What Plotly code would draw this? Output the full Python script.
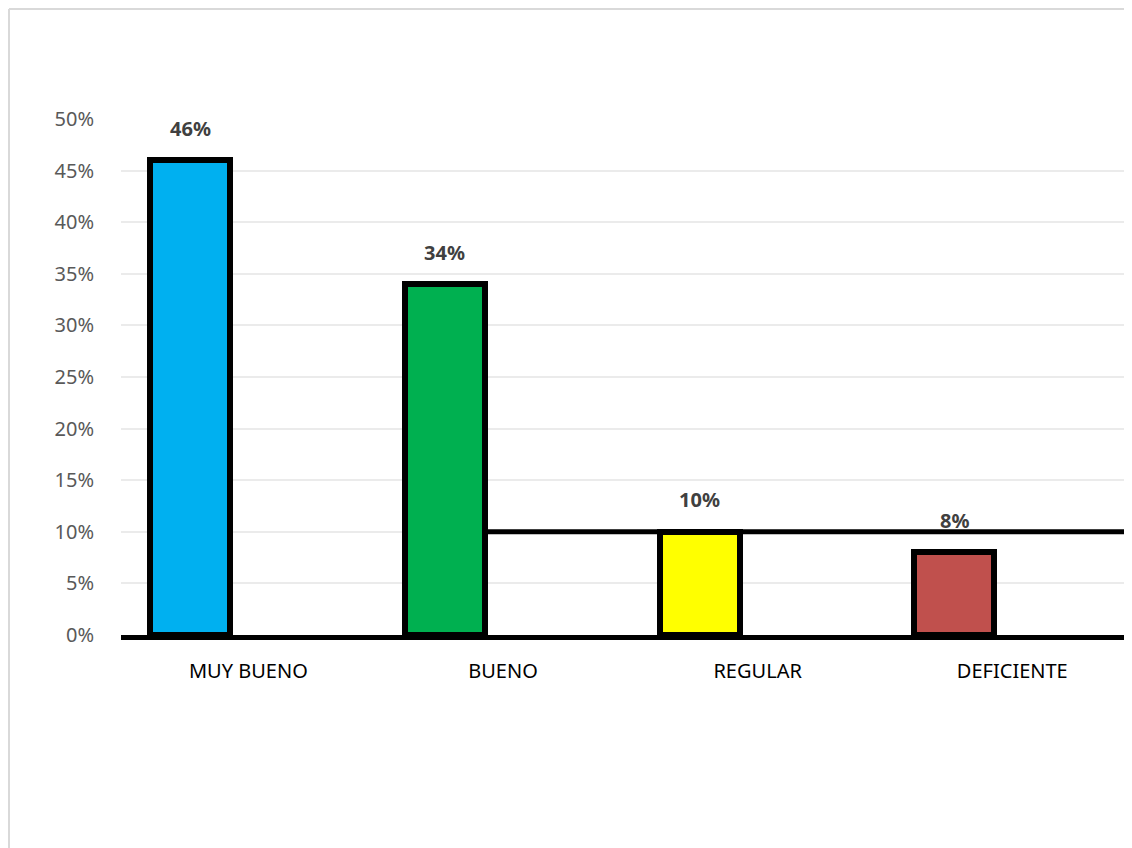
import plotly.graph_objects as go

categories = ["MUY BUENO", "BUENO", "REGULAR", "DEFICIENTE"]
values = [0.46, 0.34, 0.10, 0.08]
labels = ["46%", "34%", "10%", "8%"]
colors = ["#00B0F0", "#00B050", "#FFFF00", "#C0504D"]
ytick_vals = [0, 0.05, 0.10, 0.15, 0.20, 0.25, 0.30, 0.35, 0.40, 0.45, 0.50]
ytick_text = ["0%", "5%", "10%", "15%", "20%", "25%", "30%", "35%", "40%", "45%", "50%"]

# page body has an 8px margin, so the figure is sized to the remaining window
OFF = 8
W, H = 1132 - OFF, 848 - OFF
ML, MR, MT, MB = 121 - OFF, 0, 119 - OFF, 848 - 635
BAR_OFFSET, BAR_WIDTH = -0.385, 0.314
X_MAX = 3.47
FONT = "Noto Sans, Open Sans, sans-serif"

fig = go.Figure()
fig.add_trace(go.Bar(
    x=list(range(len(categories))), y=values,
    marker=dict(color=colors, line=dict(color="black", width=6)),
    offset=BAR_OFFSET, width=BAR_WIDTH,
    hoverinfo="skip", showlegend=False,
))

for i, (v, t) in enumerate(zip(values, labels)):
    fig.add_annotation(
        x=i + BAR_OFFSET + BAR_WIDTH / 2, y=v, text="<b>%s</b>" % t,
        showarrow=False, yshift=32, yanchor="middle",
        font=dict(family=FONT, size=20, color="#404040"),
    )

# thick black connector line at REGULAR level
fig.add_shape(type="line", xref="x", yref="y",
              x0=1 + BAR_OFFSET + BAR_WIDTH, x1=X_MAX, y0=values[2], y1=values[2],
              line=dict(color="black", width=5), layer="above")

# chart-area border (left and top)
pw = W - ML - MR
ph = H - MT - MB
px = lambda p: (p - OFF - ML) / pw
py = lambda p: (H - MB - (p - OFF)) / ph
fig.add_shape(type="line", xref="paper", yref="paper",
              x0=px(9), x1=px(9), y0=py(9), y1=py(860),
              line=dict(color="#D9D9D9", width=2))
fig.add_shape(type="line", xref="paper", yref="paper",
              x0=px(9), x1=px(1140), y0=py(9), y1=py(9),
              line=dict(color="#D9D9D9", width=2))

fig.update_layout(
    width=W, height=H,
    margin=dict(l=ML, r=MR, t=MT, b=MB, pad=0),
    paper_bgcolor="white", plot_bgcolor="white",
    bargap=0,
    font=dict(family=FONT),
    xaxis=dict(
        range=[-0.5, X_MAX], tickvals=list(range(len(categories))), ticktext=categories,
        showline=True, linecolor="black", linewidth=5, showgrid=False, zeroline=False,
        ticks="outside", ticklen=14, tickcolor="rgba(0,0,0,0)",
        tickfont=dict(size=20, color="black"),
    ),
    yaxis=dict(
        range=[0, 0.5], tickvals=ytick_vals, ticktext=ytick_text,
        showgrid=True, gridcolor="#EBEBEB", gridwidth=2, zeroline=False, showline=False,
        ticks="outside", ticklen=22, tickcolor="rgba(0,0,0,0)",
        tickfont=dict(size=20, color="#595959"),
    ),
)

fig.write_html("out.html")
